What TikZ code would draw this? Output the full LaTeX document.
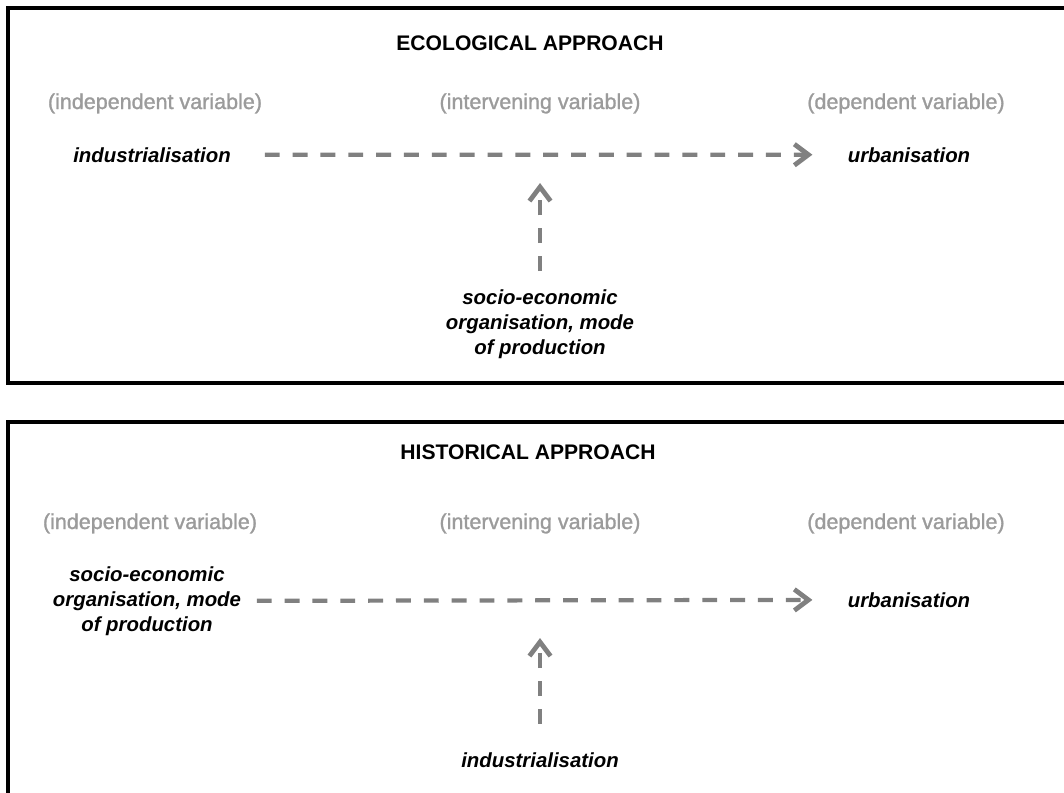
\documentclass[tikz,border=0pt]{standalone}
\usepackage{fontspec}
\setmainfont{Liberation Sans}
\usepackage{tikz}
\usetikzlibrary{arrows.meta, positioning}
\definecolor{labelgrey}{RGB}{155,155,155}
\definecolor{arrowgrey}{RGB}{128,128,128}
\tikzset{
  panel/.style={draw=black, line width=3pt},
  heading/.style={font=\fontsize{15}{18}\selectfont\bfseries,
    inner sep=0pt, anchor=base},
  varlabel/.style={font=\fontsize{15.3}{18}\selectfont\addfontfeature{FakeBold=1.3},
    text=labelgrey, inner sep=0pt, anchor=base},
  factor/.style={font=\fontsize{14.5}{17.7}\selectfont\bfseries\itshape,
    inner sep=0pt, align=center},
  dasharrow/.style={-{Straight Barb[length=10pt, width=15pt, line width=3.4pt]},
    color=arrowgrey, line width=3pt, dash pattern=on 10.6pt off 9.2pt}
}

\begin{document}
\begin{tikzpicture}[x=0.025cm, y=-0.025cm]
  \clip (0,0) rectangle (1064,792);

  % Ecological approach
  \draw[panel] (8,8) rectangle (1090,383);
  \node[heading] (titleA) at (530,50) {ECOLOGICAL APPROACH};
  \node[varlabel] (indepA) at (155,109) {(independent variable)};
  \node[varlabel] (intervA) at (540,109) {(intervening variable)};
  \node[varlabel] (depA) at (906,109) {(dependent variable)};
  \node[factor, anchor=base] (industA) at (152,162) {industrialisation};
  \node[factor, anchor=base] (urbA) at (909,162) {urbanisation};
  \node[factor] (socA) at (540,324) {socio-economic\\organisation, mode\\of production};
  \coordinate (tipA) at (540,183);

  \draw[dasharrow, shorten <=24pt, shorten >=25pt] (industA) -- (urbA);
  \draw[dasharrow, shorten <=13pt] (socA) -- (tipA);

  % Historical approach
  \draw[panel] (8,422) rectangle (1090,810);
  \node[heading] (titleB) at (528,459) {HISTORICAL APPROACH};
  \node[varlabel] (indepB) at (150,529) {(independent variable)};
  \node[varlabel] (intervB) at (540,529) {(intervening variable)};
  \node[varlabel] (depB) at (906,529) {(dependent variable)};
  \node[factor] (socB) at (147,601) {socio-economic\\organisation, mode\\of production};
  \node[factor, anchor=base] (urbB) at (909,607) {urbanisation};
  \node[factor, anchor=base] (industB) at (540,767) {industrialisation};
  \coordinate (tipB) at (540,638);

  \draw[dasharrow, shorten <=11pt, shorten >=25pt] (socB) -- (urbB);
  \draw[dasharrow, shorten <=20pt] (industB) -- (tipB);
\end{tikzpicture}
\end{document}
